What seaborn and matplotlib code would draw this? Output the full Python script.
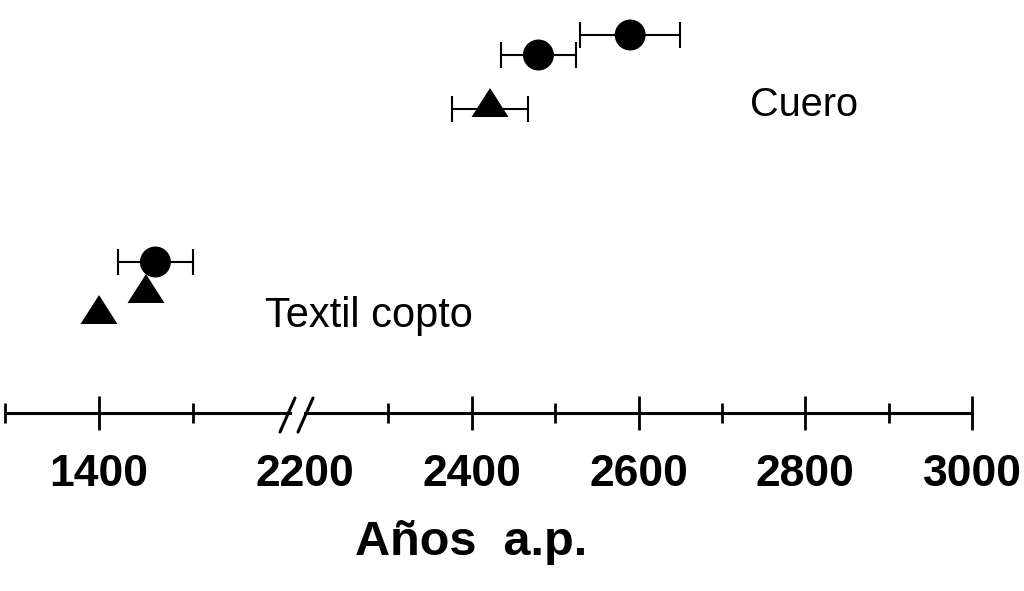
import matplotlib
matplotlib.use("Agg")
import matplotlib.pyplot as plt
from matplotlib.lines import Line2D
from matplotlib.ticker import FixedLocator
import seaborn as sns
import pandas as pd

# radiocarbon ages (years BP)
cuero_age = [2590, 2480, 2422]
cuero_err = [60, 45, 45]
cuero_kind = ["circle", "circle", "triangle"]
cuero_row = [378, 358, 304]

textil_age = [1460, 1450, 1400]
textil_err = [40, 0, 0]
textil_kind = ["circle", "triangle", "triangle"]
textil_row = [151, 118, 97]

left_major = [1400]
left_minor = [1300, 1500]
right_major = [2200, 2400, 2600, 2800, 3000]
right_minor = [2300, 2500, 2700, 2900]

df = pd.concat([
    pd.DataFrame({"group": "Cuero", "age": cuero_age, "err": cuero_err,
                  "kind": cuero_kind, "row": cuero_row}),
    pd.DataFrame({"group": "Textil copto", "age": textil_age, "err": textil_err,
                  "kind": textil_kind, "row": textil_row}),
], ignore_index=True)

sns.set_style("white", {"axes.edgecolor": "black", "text.color": "black",
                        "xtick.color": "black", "xtick.bottom": True})
plt.rcParams["font.family"] = ["Liberation Sans", "DejaVu Sans"]

W, H = 1024, 591
fig = plt.figure(figsize=(W / 100, H / 100), dpi=100)

# broken axis: two axes side by side
ax_l = fig.add_axes([5 / W, 178 / H, 285 / W, 413 / H])
ax_r = fig.add_axes([304.8 / W, 178 / H, (972.3 - 304.8) / W, 413 / H])

tri = [(-18.5, -8), (18.5, -8), (0, 21)]
markers = {"circle": "o", "triangle": tri}
sizes = {"circle": 22.3 ** 2, "triangle": 30.2 ** 2}

for ax, grp in [(ax_l, "Textil copto"), (ax_r, "Cuero")]:
    sub = df[df["group"] == grp]
    bars = sub[sub["err"] > 0]
    ax.errorbar(bars["age"], bars["row"], xerr=bars["err"], fmt="none",
                ecolor="black", elinewidth=1.5, capsize=9.5, capthick=1.5, zorder=2)
    sns.scatterplot(data=sub, x="age", y="row", style="kind", markers=markers,
                    size="kind", sizes=sizes, color="black", linewidth=0,
                    legend=False, ax=ax, zorder=3)
    ax.set_ylim(0, 413)
    ax.set_yticks([])
    ax.set_xlabel("")
    ax.set_ylabel("")
    for s in ["top", "left", "right"]:
        ax.spines[s].set_visible(False)
    ax.spines["bottom"].set_linewidth(2.2)
    ax.spines["bottom"].set_color("black")
    ax.patch.set_alpha(0)
    ax.tick_params(axis="x", which="both", bottom=True, colors="black")
    ax.tick_params(axis="x", which="major", direction="inout", length=25,
                   width=2, pad=17, labelsize=32)
    ax.tick_params(axis="x", which="minor", direction="inout", length=14,
                   width=2)

ax_l.set_xlim(1300, 1300 + 285 / 0.94)
ax_l.xaxis.set_major_locator(FixedLocator(left_major))
ax_l.xaxis.set_minor_locator(FixedLocator(left_minor))
ax_r.set_xlim(2200, 3000)
ax_r.xaxis.set_major_locator(FixedLocator(right_major))
ax_r.xaxis.set_minor_locator(FixedLocator(right_minor))
for ax in (ax_l, ax_r):
    for lab in ax.get_xticklabels():
        lab.set_fontweight("bold")
ax_r.xaxis.get_major_ticks()[0].tick1line.set_visible(False)

# break marks
for x0 in (280, 298):
    fig.add_artist(Line2D([x0 / W, (x0 + 15) / W], [1 - 432 / H, 1 - 398 / H],
                          color="black", lw=2.2))

ax_r.text(2734, 297, "Cuero", fontsize=28.5, va="baseline", ha="left",
          color="black")
ax_l.text(1577, 86, "Textil copto", fontsize=30, va="baseline", ha="left",
          color="black", clip_on=False)

fig.text(471 / W, 1 - 555 / H, "Años  a.p.", fontsize=35, fontweight="bold",
         ha="center", va="baseline", color="black")

fig.savefig("out.png", dpi=100, facecolor="white")
